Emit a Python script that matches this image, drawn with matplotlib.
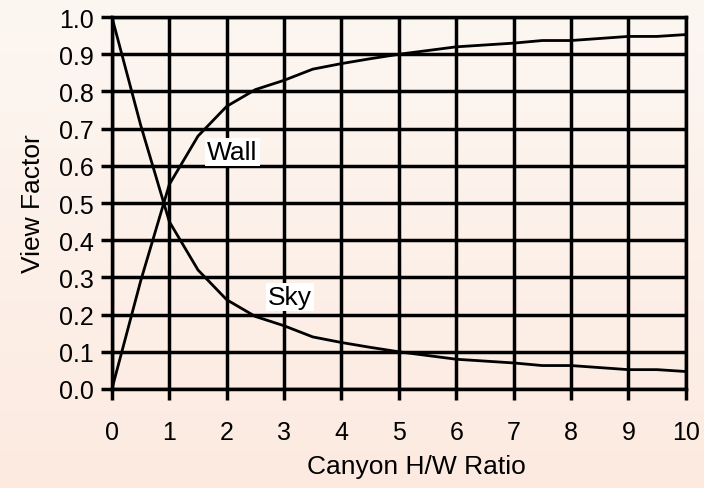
import numpy as np
import matplotlib
matplotlib.use("Agg")
import matplotlib.pyplot as plt
from matplotlib.colors import LinearSegmentedColormap

# canyon height/width ratio
ratio = [0, 0.5, 1, 1.5, 2, 2.5, 3, 3.5, 4, 4.5, 5, 6, 7, 7.5, 8, 9, 9.5, 10]
# view factors
sky = [1.0, 0.71, 0.45, 0.32, 0.24, 0.195, 0.17, 0.14, 0.125, 0.112, 0.10,
       0.08, 0.07, 0.063, 0.063, 0.052, 0.052, 0.047]
wall = [0.0, 0.29, 0.55, 0.68, 0.76, 0.805, 0.83, 0.86, 0.875, 0.888, 0.90,
        0.92, 0.93, 0.937, 0.937, 0.948, 0.948, 0.953]

plt.rcParams['font.family'] = ['Liberation Sans', 'DejaVu Sans']

fig = plt.figure(figsize=(7.04, 4.89), dpi=100)

# peach gradient background
bg = fig.add_axes([0, 0, 1, 1], zorder=-10)
cmap = LinearSegmentedColormap.from_list("peach", ["#FDF7F2", "#FCEAE0"])
bg.imshow(np.linspace(0, 1, 256).reshape(-1, 1), aspect='auto', cmap=cmap,
          extent=[0, 1, 0, 1])
bg.axis('off')

ax = fig.add_axes([0.159, 0.2025, 0.815, 0.7605])
ax.patch.set_alpha(0)

ax.plot(ratio, sky, color='black', lw=2, zorder=3)
ax.plot(ratio, wall, color='black', lw=2, zorder=3)

ax.set_xlim(0, 10)
ax.set_ylim(0, 1)
ax.set_xticks(range(0, 11))
ax.set_yticks(np.arange(0, 1.01, 0.1))
ax.set_yticklabels([f"{v:.1f}" for v in np.arange(0, 1.01, 0.1)])
ax.grid(True, color='black', lw=2.5)
for s in ax.spines.values():
    s.set_linewidth(2.5)
ax.tick_params(direction='out', length=8, width=2.5, labelsize=18, pad=5)
ax.tick_params(axis='x', pad=14)

ax.set_xlabel("Canyon H/W Ratio", fontsize=19, labelpad=8)
ax.xaxis.set_label_coords(0.531, -0.175)
ax.set_ylabel("View Factor", fontsize=19, labelpad=10)

box = dict(facecolor='white', edgecolor='none', pad=1.5)
ax.text(1.66, 0.637, "Wall", fontsize=19, va='center', ha='left', bbox=box, zorder=4)
ax.text(2.72, 0.247, "Sky", fontsize=19, va='center', ha='left', bbox=box, zorder=4)

fig.savefig("out.png", dpi=100)
